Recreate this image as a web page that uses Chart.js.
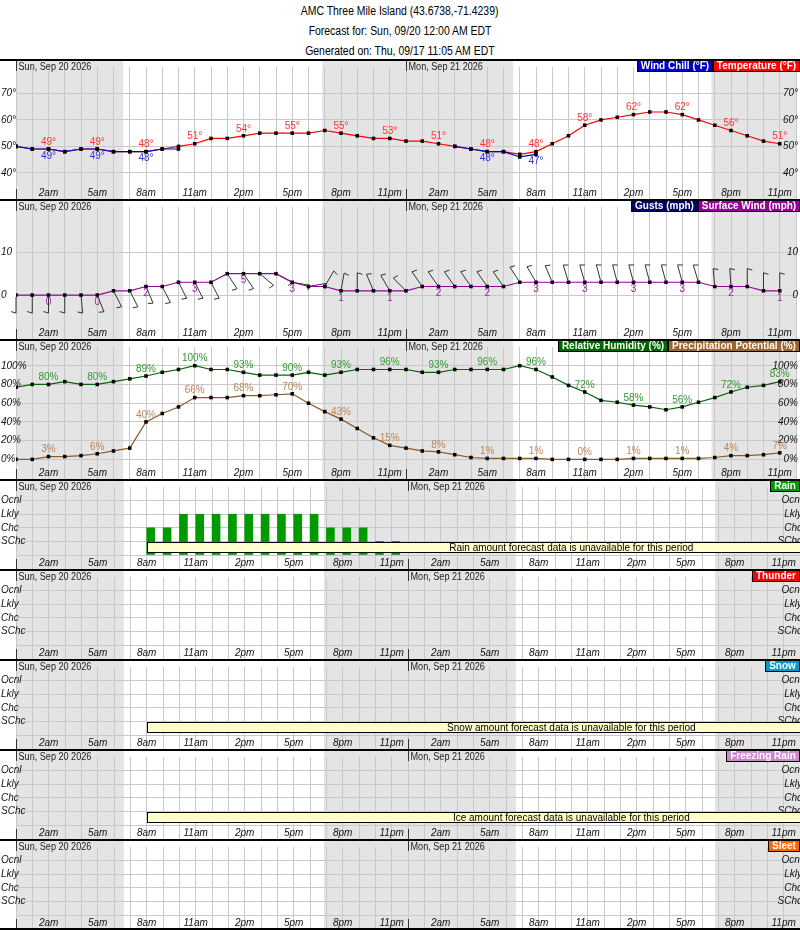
<!DOCTYPE html>
<html>
<head>
<meta charset="utf-8">
<script src="https://cdn.jsdelivr.net/npm/chart.js@4/dist/chart.umd.min.js"></script>
<style>
  body { margin: 0; width: 800px; height: 930px; position: relative; overflow: hidden; background: #fff; }
  .ttl { position: absolute; left: 0; width: 800px; text-align: center; line-height: 14px;
         font: 12px "Liberation Sans", Arial, sans-serif; color: #000; }
  .ttl span { display: inline-block; transform: scaleX(0.87); }
  canvas { position: absolute; left: 0; }
  #foot { position: absolute; left: 0; top: 928px; width: 800px; height: 2px; background: #000; }
</style>
</head>
<body>
<div class="ttl" style="top:4px"><span>AMC Three Mile Island (43.6738,-71.4239)</span></div>
<div class="ttl" style="top:24px"><span>Forecast for: Sun, 09/20 12:00 AM EDT</span></div>
<div class="ttl" style="top:44px"><span>Generated on: Thu, 09/17 11:05 AM EDT</span></div>
<div id="panels"></div>
<div id="foot"></div>
<script>
/* hourly forecast, Sun 09/20 00:00 -> Mon 09/21 23:00 */
const hours = [0,1,2,3,4,5,6,7,8,9,10,11,12,13,14,15,16,17,18,19,20,21,22,23,
               24,25,26,27,28,29,30,31,32,33,34,35,36,37,38,39,40,41,42,43,44,45,46,47];
const dayLabels = ['Sun, Sep 20 2026', 'Mon, Sep 21 2026'];
const nightSpans = [[0, 6.6], [18.85, 30.6], [42.8, 48]];   // hours in darkness

const temperature = [50,49,49,48,49,49,48,48,48,49,50,51,53,53,54,55,55,55,55,56,55,54,53,53,
                     52,52,51,50,49,48,48,47,48,51,54,58,60,61,62,63,63,62,60,58,56,54,52,51];
const windChill   = [50,49,49,48,49,49,48,48,48,49,49,null,null,null,null,null,null,null,null,null,null,null,null,null,
                     null,null,null,50,49,48,48,46,47,null,null,null,null,null,null,null,null,null,null,null,null,null,null,null];
const surfaceWind = [0,0,0,0,0,0,1,1,2,2,3,3,3,5,5,5,5,3,2,2,1,1,1,1,
                     1,2,2,2,2,2,2,3,3,3,3,3,3,3,3,3,3,3,3,2,2,2,1,1];
const windGusts   = [];
const windDir     = [180,180,180,180,175,158,153,153,157,153,153,153,153,147,146,130,118,100,80,30,10,0,337,330,
                     315,325,325,325,325,325,325,327,330,337,343,344,345,345,345,345,345,345,343,355,356,0,0,0];
const humidity    = [77,80,80,83,80,80,83,86,89,93,96,100,96,96,93,90,90,90,93,90,93,96,96,96,
                     96,93,93,96,96,96,96,100,96,88,79,72,63,61,58,56,53,56,61,66,72,77,79,83];
const precipPot   = [0,0,3,3,4,6,9,12,40,49,56,66,66,66,68,68,69,70,60,51,43,33,23,15,
                     12,9,8,5,2,1,1,1,1,0,0,0,0,0,1,1,1,1,1,2,4,4,5,7];
// 1 = SChc, 2 = Chc, 3 = Lkly, 4 = Ocnl
const rainLevel   = [null,null,null,null,null,null,null,null,2,2,3,3,3,3,3,3,3,3,3,2,2,2,1,1,
                     null,null,null,null,null,null,null,null,null,null,null,null,null,null,null,null,null,null,null,null,null,null,null,null];
const thunderLevel = [];
const snowLevel    = [];
const frzRainLevel = [];
const sleetLevel   = [];
const chanceNames  = ['', 'SChc', 'Chc', 'Lkly', 'Ocnl'];

const FONT = '"Liberation Sans", Arial, sans-serif';
const GRID = '#c8c8c8';

function hourLabel(v) {
  const hh = v % 24;
  if (hh % 3 !== 2) return '';
  const t = hh % 12 === 0 ? 12 : hh % 12;
  return t + (hh < 12 ? 'am' : 'pm');
}

const nwsPlugin = {
  id: 'nws',
  beforeDraw(chart, args, o) {
    const { ctx, width, height } = chart;
    const x = chart.scales.x;
    ctx.save();
    ctx.fillStyle = '#fff';
    ctx.fillRect(0, 0, width, height);
    ctx.fillStyle = '#e4e4e4';
    nightSpans.forEach(([a, b]) => {
      const x0 = x.getPixelForValue(a), x1 = x.getPixelForValue(b);
      ctx.fillRect(x0, 0, x1 - x0, height);
    });
    ctx.restore();
  },
  beforeDatasetsDraw(chart, args, o) {
    if (!o.barbs) return;
    const ctx = chart.ctx;
    const meta = chart.getDatasetMeta(o.barbs.ds);
    ctx.save();
    ctx.strokeStyle = '#333';
    ctx.lineWidth = 1;
    meta.data.forEach((pt, i) => {
      const a = o.barbs.dir[i] * Math.PI / 180;
      const dx = Math.sin(a), dy = -Math.cos(a);
      const x1 = pt.x + dx * 18, y1 = pt.y + dy * 18;
      ctx.beginPath();
      ctx.moveTo(pt.x + dx * 2, pt.y + dy * 2);
      ctx.lineTo(x1, y1);
      ctx.lineTo(x1 - dy * 5 - dx * 1.5, y1 + dx * 5 - dy * 1.5);
      ctx.stroke();
    });
    ctx.restore();
  },
  afterDatasetsDraw(chart, args, o) {
    const { ctx, width } = chart;
    const x = chart.scales.x;
    ctx.save();
    ctx.font = `10px ${FONT}`;
    ctx.textAlign = 'center';
    ctx.textBaseline = 'middle';
    (o.labels || []).forEach(l => {
      const data = chart.data.datasets[l.ds].data;
      ctx.fillStyle = l.color;
      chart.getDatasetMeta(l.ds).data.forEach((pt, i) => {
        if (data[i] == null || i % 3 !== 2) return;
        ctx.fillText(data[i] + l.suffix, pt.x, pt.y + l.dy);
      });
    });
    if (o.noData) {
      const x0 = Math.round(x.getPixelForValue(8));
      ctx.fillStyle = '#ffffcc';
      ctx.fillRect(x0, 63, width - x0, 11);
      ctx.strokeStyle = '#000';
      ctx.lineWidth = 1;
      ctx.strokeRect(x0 + 0.5, 63.5, width - x0, 10);
      ctx.fillStyle = '#000';
      // message centred on the unavailable period (runs past the visible 48 h)
      ctx.fillText(o.noData, (x.getPixelForValue(8) + x.getPixelForValue(60)) / 2, 69);
    }
    ctx.restore();
  },
  afterDraw(chart, args, o) {
    const { ctx, width, height } = chart;
    const x = chart.scales.x;
    ctx.save();
    ctx.fillStyle = '#000';
    ctx.fillRect(0, 0, width, 2);
    ctx.strokeStyle = '#333';
    ctx.lineWidth = 1;
    ctx.font = `10px ${FONT}`;
    ctx.textAlign = 'left';
    ctx.textBaseline = 'top';
    dayLabels.forEach((d, k) => {
      const px = Math.round(x.getPixelForValue(k * 24)) + 0.5;
      ctx.beginPath();
      ctx.moveTo(px, 2); ctx.lineTo(px, 12);
      ctx.moveTo(px, height - 10); ctx.lineTo(px, height);
      ctx.stroke();
      ctx.fillStyle = '#222';
      ctx.save();
      ctx.translate(px + 2, 3);
      ctx.scale(0.91, 1);
      ctx.fillText(d, 0, 0);
      ctx.restore();
    });
    // legend boxes, right aligned at the top of the panel
    ctx.font = `bold 10px ${FONT}`;
    ctx.textAlign = 'center';
    ctx.textBaseline = 'middle';
    let right = width;
    for (let i = o.legend.length - 1; i >= 0; i--) {
      const [text, bg] = o.legend[i];
      const w = Math.round(ctx.measureText(text).width + 8);
      ctx.fillStyle = bg;
      ctx.fillRect(right - w, 1, w, 12);
      ctx.strokeStyle = '#000';
      ctx.strokeRect(right - w + 0.5, 1.5, w - 1, 11);
      ctx.fillStyle = '#fff';
      ctx.fillText(text, right - w / 2, 7.5);
      right -= w;
    }
    ctx.restore();
  }
};

function lineSet(label, data, color) {
  return {
    label, data, borderColor: color, backgroundColor: color, borderWidth: 1.2,
    tension: 0, fill: false, spanGaps: false,
    pointStyle: 'rect', pointRadius: 2.5, pointBorderWidth: 0,
    pointBackgroundColor: '#000', pointBorderColor: '#000'
  };
}
function barSet(label, data, color) {
  return { type: 'bar', label, data, xAxisID: 'xb', backgroundColor: color, borderWidth: 0, barThickness: 8 };
}

function makePanel(p) {
  const cv = document.createElement('canvas');
  cv.width = 800; cv.height = p.h;
  cv.style.top = p.top + 'px';
  document.getElementById('panels').appendChild(cv);
  const tickFont = { family: FONT, size: 10, style: 'italic' };
  const yCommon = {
    min: p.yMin, max: p.yMax,
    afterBuildTicks: s => { s.ticks = p.yTicks.map(v => ({ value: v })); },
    border: { display: false },
  };
  return new Chart(cv.getContext('2d'), {
    type: 'line',
    data: { labels: hours, datasets: p.datasets },
    options: {
      responsive: false, animation: false, devicePixelRatio: 1, events: [],
      layout: { padding: 0 },
      plugins: { legend: { display: false }, tooltip: { enabled: false }, nws: p.nws },
      scales: {
        x: {
          type: 'linear', min: 0, max: 48, position: 'bottom',
          afterFit: s => { s.height = 14; },
          afterBuildTicks: s => { s.ticks = hours.concat(48).map(v => ({ value: v })); },
          border: { display: false },
          grid: { color: GRID, tickColor: GRID, tickLength: 14, drawTicks: true },
          ticks: { autoSkip: false, maxRotation: 0, padding: -12, color: '#111', font: tickFont, callback: v => hourLabel(v) }
        },
        // same time axis, shifted a quarter hour so bars sit just right of each hour line
        xb: {
          type: 'linear', min: -0.25, max: 47.75, position: 'bottom', offset: false,
          afterFit: s => { s.height = 0; },
          border: { display: false }, grid: { display: false, offset: false }, ticks: { display: false }
        },
        y: Object.assign({}, yCommon, {
          position: 'left',
          afterFit: s => { s.width = 16; },
          grid: { color: GRID, drawTicks: false },
          ticks: { mirror: true, padding: -15, color: '#111', font: tickFont, callback: p.fmt }
        }),
        yr: Object.assign({}, yCommon, {
          position: 'right',
          afterFit: s => { s.width = 0; },
          grid: { display: false },
          ticks: { mirror: true, padding: 2, color: '#111', font: tickFont, callback: p.fmt }
        })
      }
    },
    plugins: [nwsPlugin]
  });
}

const chanceFmt = v => chanceNames[v] || '';

makePanel({
  top: 59, h: 140, yMin: 35.4, yMax: 80, yTicks: [40, 50, 60, 70], fmt: v => v + '°',
  datasets: [lineSet('Wind Chill (°F)', windChill, '#0000cc'), lineSet('Temperature (°F)', temperature, '#ff0000')],
  nws: {
    legend: [['Wind Chill (°F)', '#0000cc'], ['Temperature (°F)', '#ff0000']],
    labels: [{ ds: 1, color: '#ff3333', dy: -7, suffix: '°' }, { ds: 0, color: '#3333cc', dy: 7, suffix: '°' }]
  }
});
makePanel({
  top: 199, h: 140, yMin: -7, yMax: 20.6, yTicks: [0, 10], fmt: v => String(v),
  datasets: [lineSet('Surface Wind (mph)', surfaceWind, '#990099'), lineSet('Gusts (mph)', windGusts, '#000066')],
  nws: {
    legend: [['Gusts (mph)', '#000066'], ['Surface Wind (mph)', '#990099']],
    labels: [{ ds: 0, color: '#a020a0', dy: 7, suffix: '' }],
    barbs: { ds: 0, dir: windDir }
  }
});
makePanel({
  top: 339, h: 140, yMin: -6, yMax: 120, yTicks: [0, 20, 40, 60, 80, 100], fmt: v => v + '%',
  datasets: [lineSet('Relative Humidity (%)', humidity, '#006600'), lineSet('Precipitation Potential (%)', precipPot, '#8b5a2b')],
  nws: {
    legend: [['Relative Humidity (%)', '#006600'], ['Precipitation Potential (%)', '#996633']],
    labels: [{ ds: 0, color: '#339933', dy: -7, suffix: '%' }, { ds: 1, color: '#b8865b', dy: -7, suffix: '%' }]
  }
});
const chancePanels = [
  ['Rain', rainLevel, '#009900', 'Rain amount forecast data is unavailable for this period'],
  ['Thunder', thunderLevel, '#ff0000', null],
  ['Snow', snowLevel, '#0099cc', 'Snow amount forecast data is unavailable for this period'],
  ['Freezing Rain', frzRainLevel, '#cc88cc', 'Ice amount forecast data is unavailable for this period'],
  ['Sleet', sleetLevel, '#ff6600', null]
];
chancePanels.forEach(([name, data, color, msg], k) => {
  makePanel({
    top: 479 + k * 90, h: 90, yMin: 0, yMax: 5, yTicks: [0, 1, 2, 3, 4], fmt: chanceFmt,
    datasets: [barSet(name, data, color)],
    nws: { legend: [[name, color]], noData: msg }
  });
});
</script>
</body>
</html>
